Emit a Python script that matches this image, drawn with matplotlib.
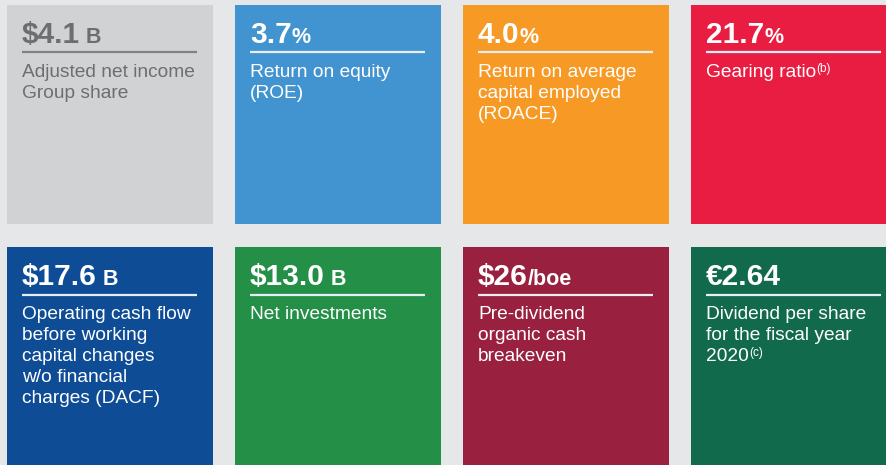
import matplotlib
matplotlib.use("Agg")
import matplotlib.pyplot as plt
from matplotlib.patches import Rectangle

# ---- data ----
values = ["$4.1", "3.7", "4.0", "21.7", "$17.6", "$13.0", "$26", "€2.64"]
units = [" B", "%", "%", "%", " B", " B", "/boe", ""]
labels = [
    ["Adjusted net income", "Group share"],
    ["Return on equity", "(ROE)"],
    ["Return on average", "capital employed", "(ROACE)"],
    ["Gearing ratio"],
    ["Operating cash flow", "before working", "capital changes", "w/o financial", "charges (DACF)"],
    ["Net investments"],
    ["Pre-dividend", "organic cash", "breakeven"],
    ["Dividend per share", "for the fiscal year", "2020"],
]
footnotes = ["", "", "", "(b)", "", "", "", "(c)"]
tile_colors = ["#d1d2d4", "#4294d0", "#f79a25", "#e91d42",
               "#0e4c96", "#238f47", "#99203e", "#116a4b"]
text_colors = ["#6d6e71"] + ["#ffffff"] * 7
rule_colors = ["#808184"] + ["#e8eef5"] * 7

# ---- layout ----
W, H = 886, 465
fig = plt.figure(figsize=(W / 100, H / 100), dpi=100)
fig.patch.set_facecolor("#e6e7e8")
ax = fig.add_axes([0, 0, 1, 1])
ax.set_xlim(0, W)
ax.set_ylim(H, 0)
ax.axis("off")
ax.set_facecolor("#e6e7e8")

col_x = [7, 235, 463, 691]
row_y = [5, 247]
tile_w, tile_h = 206, 219
FONT = "Liberation Sans"

renderer = fig.canvas.get_renderer()

def width_px(t):
    bb = t.get_window_extent(renderer=renderer)
    return bb.width

for i in range(8):
    r, c = divmod(i, 4)
    x0, y0 = col_x[c], row_y[r]
    h = tile_h if r == 0 else H - y0 + 5
    ax.add_patch(Rectangle((x0, y0), tile_w, h, facecolor=tile_colors[i],
                           edgecolor="none", zorder=1))
    tx = x0 + 15
    tc = text_colors[i]
    # value
    tv = ax.text(tx, y0 + 38, values[i], fontsize=21.5, fontweight="bold",
                 family=FONT, color=tc, va="baseline", ha="left", zorder=3)
    if units[i]:
        wv = width_px(tv)
        ax.text(tx + wv, y0 + 38, units[i], fontsize=15.5, fontweight="bold",
                family=FONT, color=tc, va="baseline", ha="left", zorder=3)
    # rule
    ax.plot([tx, x0 + 190], [y0 + 47.5, y0 + 47.5], color=rule_colors[i],
            lw=1.6, solid_capstyle="butt", zorder=3)
    # label lines
    for j, line in enumerate(labels[i]):
        tl = ax.text(tx, y0 + 72 + 21 * j, line, fontsize=13.8, family=FONT,
                     color=tc, va="baseline", ha="left", zorder=3)
        if j == len(labels[i]) - 1 and footnotes[i]:
            wl = width_px(tl)
            ax.text(tx + wl + 0.5, y0 + 72 + 21 * j - 5, footnotes[i],
                    fontsize=8.5, family=FONT, color=tc, va="baseline",
                    ha="left", zorder=3)

fig.savefig("out.png", dpi=100, facecolor=fig.get_facecolor())
